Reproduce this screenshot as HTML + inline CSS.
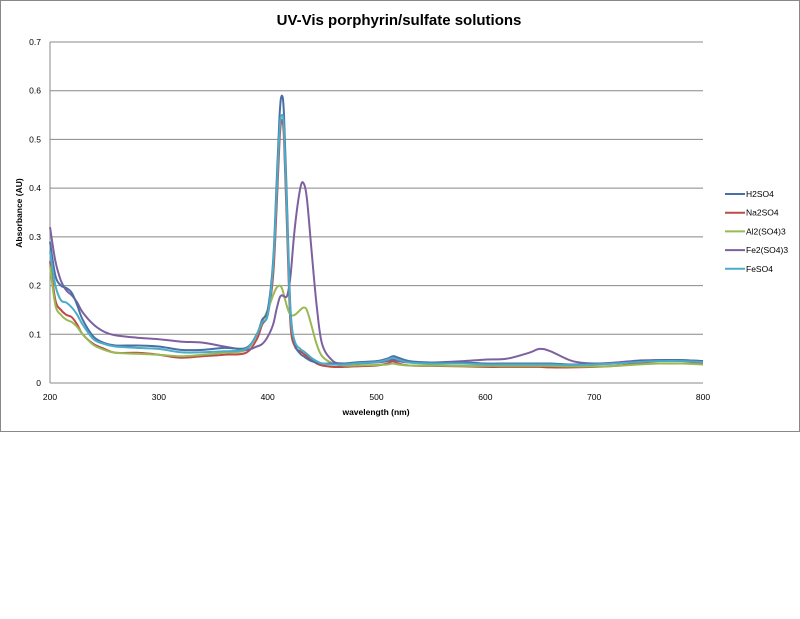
<!DOCTYPE html>
<html><head><meta charset="utf-8"><style>
body{margin:0;background:#fff;width:800px;height:614px;overflow:hidden;font-family:"Liberation Sans",sans-serif}
</style></head><body>
<svg id="chart" width="800" height="614" xmlns="http://www.w3.org/2000/svg">
<rect x="0.5" y="0.5" width="799" height="431" fill="#fff" stroke="#888"/>
<text x="399" y="25" text-anchor="middle" font-size="15" font-weight="bold" fill="#000">UV-Vis porphyrin/sulfate solutions</text>
<g id="grid"></g><g id="series"></g><g id="legend"></g>
<text x="376" y="415" text-anchor="middle" font-size="8.5" font-weight="bold">wavelength (nm)</text>
<text transform="translate(22,213) rotate(-90)" text-anchor="middle" font-size="8.5" font-weight="bold">Absorbance (AU)</text>
</svg>
<script>
const wl=[200,205,210,215,220,225,230,240,250,260,280,300,320,340,360,380,390,395,400,405,408,411,413,415,418,421,425,430,433,436,440,445,450,460,470,480,500,510,515,520,530,550,580,600,620,640,650,660,680,700,720,740,760,780,800];
const seriesNames=["H2SO4","Na2SO4","Al2(SO4)3","Fe2(SO4)3","FeSO4"];
const h2so4=[0.29,0.22,0.20,0.195,0.185,0.16,0.13,0.095,0.082,0.077,0.077,0.075,0.068,0.068,0.072,0.072,0.10,0.13,0.15,0.25,0.40,0.55,0.59,0.55,0.35,0.15,0.08,0.06,0.055,0.05,0.045,0.042,0.04,0.04,0.04,0.042,0.045,0.05,0.055,0.052,0.045,0.042,0.042,0.04,0.04,0.04,0.04,0.04,0.038,0.04,0.04,0.045,0.047,0.047,0.045];
const na2so4=[0.25,0.17,0.15,0.14,0.135,0.12,0.10,0.08,0.07,0.062,0.062,0.058,0.052,0.055,0.058,0.062,0.09,0.12,0.14,0.22,0.35,0.50,0.54,0.50,0.30,0.12,0.075,0.065,0.06,0.055,0.048,0.04,0.036,0.033,0.033,0.034,0.036,0.04,0.045,0.04,0.036,0.035,0.034,0.033,0.033,0.033,0.033,0.032,0.032,0.033,0.035,0.04,0.04,0.04,0.04];
const al2so43=[0.24,0.16,0.14,0.13,0.125,0.115,0.1,0.078,0.068,0.062,0.06,0.058,0.055,0.058,0.062,0.068,0.1,0.125,0.15,0.18,0.195,0.2,0.195,0.18,0.155,0.14,0.14,0.15,0.155,0.15,0.12,0.08,0.055,0.04,0.036,0.036,0.037,0.038,0.04,0.038,0.036,0.036,0.035,0.035,0.035,0.035,0.035,0.035,0.034,0.034,0.035,0.038,0.04,0.04,0.038];
const fe2so43=[0.32,0.25,0.21,0.19,0.18,0.165,0.145,0.12,0.105,0.098,0.093,0.09,0.085,0.083,0.075,0.068,0.075,0.08,0.095,0.12,0.15,0.175,0.18,0.178,0.18,0.22,0.32,0.40,0.41,0.38,0.28,0.16,0.08,0.045,0.04,0.04,0.042,0.045,0.048,0.045,0.042,0.042,0.045,0.048,0.05,0.062,0.07,0.065,0.045,0.04,0.042,0.046,0.047,0.047,0.045];
const feso4=[0.27,0.20,0.17,0.165,0.155,0.14,0.12,0.09,0.08,0.075,0.072,0.07,0.063,0.063,0.065,0.07,0.1,0.125,0.14,0.24,0.38,0.52,0.55,0.52,0.33,0.14,0.085,0.07,0.065,0.06,0.052,0.045,0.04,0.038,0.038,0.04,0.043,0.048,0.052,0.048,0.042,0.04,0.04,0.038,0.038,0.038,0.038,0.038,0.037,0.038,0.04,0.043,0.045,0.045,0.043];
const xTicks=[200,300,400,500,600,700,800];
const yTicks=[0,0.1,0.2,0.3,0.4,0.5,0.6,0.7];
const NS="http://www.w3.org/2000/svg";
const X0=50,X1=703,Y0=383,Y1=42;
const xs=v=>X0+(v-200)/600*(X1-X0);
const ys=v=>Y0-v/0.7*(Y0-Y1);
function mk(t,a,p){const e=document.createElementNS(NS,t);for(const k in a)e.setAttribute(k,a[k]);p.appendChild(e);return e;}
function smooth(P){
  let d='M'+P[0][0].toFixed(1)+','+P[0][1].toFixed(1);
  for(let i=0;i<P.length-1;i++){
    const p0=P[Math.max(0,i-1)],p1=P[i],p2=P[i+1],p3=P[Math.min(P.length-1,i+2)];
    const c1=[p1[0]+(p2[0]-p0[0])/6,p1[1]+(p2[1]-p0[1])/6];
    const c2=[p2[0]-(p3[0]-p1[0])/6,p2[1]-(p3[1]-p1[1])/6];
    d+=' C'+c1.map(v=>v.toFixed(1)).join(',')+' '+c2.map(v=>v.toFixed(1)).join(',')+' '+p2.map(v=>v.toFixed(1)).join(',');
  }
  return d;
}
const g=document.getElementById('grid');
yTicks.forEach(t=>{
  const l=mk('line',{x1:X0,x2:X1,y1:ys(t),y2:ys(t),stroke:'#888','stroke-width':1},g);
  
  
  const tx=mk('text',{x:X0-9,y:ys(t)+3,'text-anchor':'end','font-size':8.5},g);
  tx.textContent=String(t);
  
  
});
const ax=mk('line',{x1:X0,x2:X0,y1:Y1,y2:Y0,stroke:'#888'},g);


xTicks.forEach(t=>{
  const tx=mk('text',{x:xs(t),y:Y0+17,'text-anchor':'middle','font-size':8.5},g);
  tx.textContent=String(t);
  
  
});
const colors=['#4A6FA5','#BE4B48','#98B954','#7D60A0','#4BACC6'];
const data=[h2so4,na2so4,al2so43,fe2so43,feso4];
const sg=document.getElementById('series'),lg=document.getElementById('legend');
const drawOrder=[1,2,3,0,4];
drawOrder.forEach(i=>{
  const P=wl.map((w,j)=>[xs(w),ys(data[i][j])]);
  const p=mk('path',{d:smooth(P),fill:'none',stroke:colors[i],'stroke-width':2,'stroke-linejoin':'round'},sg);
  
  
});
seriesNames.forEach((n,i)=>{
  const y=194+i*18.7;
  const l=mk('line',{x1:725,x2:745,y1:y,y2:y,stroke:colors[i],'stroke-width':2},lg);
  
  
  const t=mk('text',{x:746,y:y+3,'font-size':8.5},lg);
  t.textContent=n;
  
  
});
</script>
</body></html>
